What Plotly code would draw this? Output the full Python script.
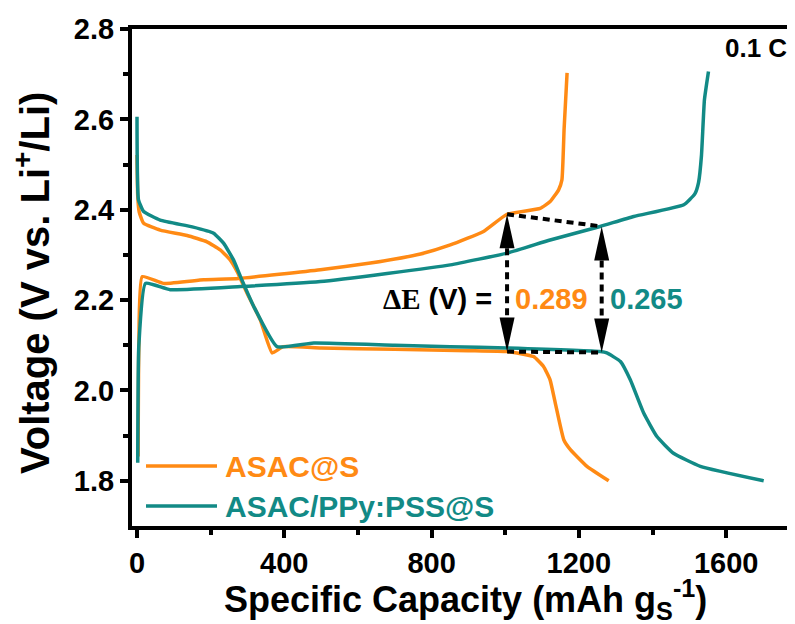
import plotly.graph_objects as go

# ---------------- data ----------------
series_names = ["ASAC@S", "ASAC/PPy:PSS@S"]
series_colors = ["#FF8A14", "#128A86"]

# ASAC@S discharge
asac_dis_x = [0, 2, 6, 18, 63, 136, 190, 226, 253, 272, 299, 335, 367, 397, 500, 700, 900,
              1005, 1032, 1077, 1104, 1122, 1136, 1159, 1177, 1222, 1281]
asac_dis_y = [2.521, 2.43, 2.395, 2.370, 2.355, 2.343, 2.329, 2.311, 2.289, 2.263, 2.215, 2.156,
              2.083, 2.097, 2.094, 2.091, 2.088, 2.086, 2.083, 2.075, 2.053, 2.023, 1.972,
              1.891, 1.869, 1.832, 1.800]
# ASAC@S charge
asac_chg_x = [3, 5, 14, 72, 181, 276, 498, 634, 770, 851, 941, 1005, 1095, 1122, 1145,
              1154, 1160, 1168]
asac_chg_y = [1.854, 2.10, 2.252, 2.237, 2.245, 2.248, 2.267, 2.282, 2.302, 2.322, 2.352,
              2.390, 2.403, 2.418, 2.444, 2.466, 2.58, 2.703]
# ASAC/PPy:PSS@S discharge
ppy_dis_x = [0, 4, 18, 63, 150, 208, 235, 262, 281, 317, 380, 480, 700, 851, 1005, 1258, 1276,
             1313, 1340, 1376, 1412, 1457, 1530, 1702]
ppy_dis_y = [2.606, 2.422, 2.396, 2.377, 2.362, 2.348, 2.326, 2.289, 2.252, 2.186, 2.097, 2.105,
             2.100, 2.097, 2.094, 2.086, 2.083, 2.064, 2.023, 1.950, 1.898, 1.861, 1.832, 1.800]
# ASAC/PPy:PSS@S charge
ppy_chg_x = [2, 5, 23, 90, 281, 498, 679, 851, 1005, 1122, 1258, 1349, 1485, 1515, 1525, 1533,
             1541, 1552]
ppy_chg_y = [1.840, 2.10, 2.237, 2.223, 2.230, 2.241, 2.259, 2.278, 2.304, 2.333, 2.363, 2.385,
             2.411, 2.435, 2.46, 2.52, 2.643, 2.706]

# polarization markers (capacity, charge voltage, discharge voltage)
delta_x = [1005, 1262]
delta_top = [2.390, 2.363]
delta_bot = [2.086, 2.084]
delta_vals = ["0.289", "0.265"]

x_ticks = [0, 400, 800, 1200, 1600]
y_ticks = [1.8, 2.0, 2.2, 2.4, 2.6, 2.8]

# ---------------- layout geometry ----------------
OFF = 8                       # default page (body) margin of the browser
W, H = 795 - OFF, 624 - OFF
# plot area in window pixels: left 132, top 29, bottom 526, right = window edge
ML, MR, MT, MB = 132 - OFF, 0, 29 - OFF, H - (526 - OFF)
XR = [-13.6, 1787]
YR = [1.70, 2.80]
pw, ph = W - ML - MR, H - MT - MB
ux = (XR[1] - XR[0]) / pw
uy = (YR[1] - YR[0]) / ph


def pxx(p):  # window x pixel -> paper
    return (p - 132) / pw


def pxy(p):  # window y pixel -> paper
    return (526 - p) / ph


def dx(p):   # window x pixel -> data
    return XR[0] + (p - 132) * ux


def dy(p):   # window y pixel -> data
    return YR[1] - (p - 29) * uy


FONT = "Liberation Sans, Arial, sans-serif"
LW = 3.5

fig = go.Figure()
curves = [
    (asac_dis_x, asac_dis_y, 0), (asac_chg_x, asac_chg_y, 0),
    (ppy_dis_x, ppy_dis_y, 1), (ppy_chg_x, ppy_chg_y, 1),
]
for xs, ys, k in curves:
    fig.add_trace(go.Scatter(x=xs, y=ys, mode="lines",
                             line=dict(color=series_colors[k], width=LW, shape="spline", smoothing=0.4),
                             showlegend=False, hoverinfo="skip"))

shapes = []
dash = "7px,5px"
shapes.append(dict(type="line", xref="x", yref="y", x0=delta_x[0], y0=delta_top[0],
                   x1=delta_x[1], y1=delta_top[1], line=dict(color="black", width=4, dash=dash)))
shapes.append(dict(type="line", xref="x", yref="y", x0=delta_x[0], y0=delta_bot[0],
                   x1=delta_x[1], y1=delta_bot[1], line=dict(color="black", width=4, dash=dash)))
hh, hw = 34, 7.5
for xa, yt, yb in zip(delta_x, delta_top, delta_bot):
    shapes.append(dict(type="line", xref="x", yref="y", x0=xa, x1=xa,
                       y0=yt - hh * uy, y1=yb + hh * uy,
                       line=dict(color="black", width=4, dash=dash)))
    shapes.append(dict(type="path", xref="x", yref="y", fillcolor="black", line=dict(width=0),
                       path=f"M {xa - hw*ux},{yt - hh*uy} L {xa},{yt} L {xa + hw*ux},{yt - hh*uy} Z"))
    shapes.append(dict(type="path", xref="x", yref="y", fillcolor="black", line=dict(width=0),
                       path=f"M {xa - hw*ux},{yb + hh*uy} L {xa},{yb} L {xa + hw*ux},{yb + hh*uy} Z"))

# manual legend
leg_y = [466, 506]
for k, name in enumerate(series_names):
    shapes.append(dict(type="line", xref="paper", yref="paper",
                       x0=pxx(146), x1=pxx(217), y0=pxy(leg_y[k]), y1=pxy(leg_y[k]),
                       line=dict(color=series_colors[k], width=LW)))

annotations = []
for k, name in enumerate(series_names):
    annotations.append(dict(xref="paper", yref="paper", x=pxx(223), y=pxy(leg_y[k]),
                            xanchor="left", yanchor="middle", showarrow=False,
                            text=f"<b>{name}</b>",
                            font=dict(family=FONT, size=30, color=series_colors[k])))

annotations.append(dict(xref="x", yref="y", x=dx(494), y=dy(299),
                        xanchor="right", yanchor="middle", showarrow=False,
                        text="<span style='font-family:Liberation Serif'><b>ΔE</b></span><b> (V) =</b>",
                        font=dict(family=FONT, size=29, color="black")))
for k, v in enumerate(delta_vals):
    cx = [551, 646.5][k]
    annotations.append(dict(xref="x", yref="y", x=dx(cx), y=dy(299),
                            xanchor="center", yanchor="middle", showarrow=False,
                            text=f"<b>{v}</b>",
                            font=dict(family=FONT, size=29, color=series_colors[k])))
annotations.append(dict(xref="x", yref="y", x=dx(756), y=dy(48),
                        xanchor="center", yanchor="middle", showarrow=False,
                        text="<b>0.1 C</b>", font=dict(family=FONT, size=26, color="black")))
# axis titles
annotations.append(dict(xref="paper", yref="paper", x=pxx(465), y=pxy(599.5),
                        xanchor="center", yanchor="middle", showarrow=False,
                        text="<b>Specific Capacity (mAh g<sub>S</sub><sup>-1</sup>)</b>",
                        font=dict(family=FONT, size=36, color="black")))
annotations.append(dict(xref="paper", yref="paper", x=pxx(32), y=pxy(283),
                        xanchor="center", yanchor="middle", showarrow=False, textangle=-90,
                        text="<b>Voltage (V vs. Li<sup>+</sup>/Li)</b>",
                        font=dict(family=FONT, size=40, color="black")))

fig.update_layout(
    width=W, height=H,
    margin=dict(l=ML, r=MR, t=MT, b=MB, autoexpand=False),
    paper_bgcolor="white", plot_bgcolor="white",
    shapes=shapes, annotations=annotations,
    showlegend=False,
    xaxis=dict(range=XR, tickvals=x_ticks, ticktext=[str(v) for v in x_ticks],
               showgrid=False, zeroline=False, showline=True, linecolor="black", linewidth=4,
               mirror=True, ticks="outside", ticklen=8, tickwidth=3.5, tickcolor="black",
               automargin=False,
               tickfont=dict(family=FONT, size=29, color="black", weight="bold"),
               minor=dict(tickvals=[200, 600, 1000, 1400], ticks="outside", ticklen=5,
                          tickwidth=3.5, tickcolor="black", showgrid=False)),
    yaxis=dict(range=YR, tickvals=y_ticks, ticktext=[f"{v:.1f}" for v in y_ticks],
               showgrid=False, zeroline=False, showline=True, linecolor="black", linewidth=4,
               mirror=False, ticks="outside", ticklen=8, tickwidth=3.5, tickcolor="black",
               automargin=False,
               tickfont=dict(family=FONT, size=29, color="black", weight="bold"),
               minor=dict(tickvals=[1.9, 2.1, 2.3, 2.5, 2.7], ticks="outside", ticklen=5,
                          tickwidth=3.5, tickcolor="black", showgrid=False)),
)

fig.write_html("out.html")
